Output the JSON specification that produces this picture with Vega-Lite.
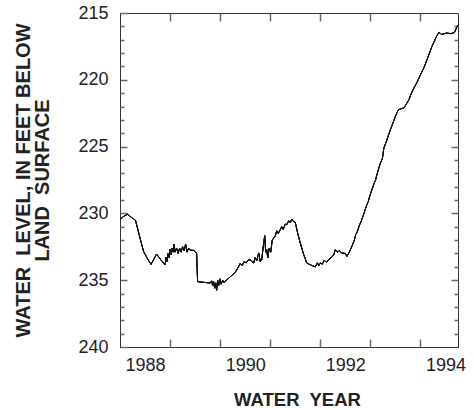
{
  "$schema": "https://vega.github.io/schema/vega-lite/v6.json",
  "width": 338,
  "height": 334,
  "autosize": {"type": "none"},
  "padding": {"left": 120, "top": 13, "right": 16, "bottom": 63},
  "background": "white",
  "config": {
    "view": {"stroke": "#333", "strokeWidth": 1},
    "axis": {
      "labelFont": "Liberation Sans",
      "labelFontSize": 18,
      "labelColor": "#222",
      "titleFont": "Liberation Sans",
      "titleFontSize": 18.5,
      "titleFontWeight": "bold",
      "titleColor": "#222",
      "domainColor": "#333",
      "grid": false,
      "labelFlush": false,
      "labelOverlap": false
    }
  },
  "data": {
    "values": [
      {"t": 1987.5, "level": 230.45},
      {"t": 1987.58, "level": 230.2},
      {"t": 1987.65, "level": 230.07},
      {"t": 1987.73, "level": 230.3},
      {"t": 1987.81, "level": 230.52},
      {"t": 1987.89, "level": 231.7},
      {"t": 1987.97, "level": 232.84},
      {"t": 1988.05, "level": 233.4},
      {"t": 1988.12, "level": 233.82},
      {"t": 1988.18, "level": 233.4},
      {"t": 1988.23, "level": 233.04},
      {"t": 1988.32, "level": 233.5},
      {"t": 1988.4, "level": 233.86},
      {"t": 1988.42, "level": 233.3},
      {"t": 1988.44, "level": 233.6},
      {"t": 1988.46, "level": 233.0},
      {"t": 1988.48, "level": 233.3},
      {"t": 1988.5, "level": 232.7},
      {"t": 1988.52, "level": 233.1},
      {"t": 1988.54, "level": 232.6},
      {"t": 1988.56, "level": 232.9},
      {"t": 1988.58, "level": 232.3},
      {"t": 1988.6, "level": 232.9},
      {"t": 1988.63, "level": 232.6},
      {"t": 1988.66, "level": 233.0},
      {"t": 1988.69, "level": 232.6},
      {"t": 1988.72, "level": 232.9},
      {"t": 1988.75, "level": 232.5},
      {"t": 1988.78, "level": 232.8},
      {"t": 1988.81, "level": 232.3},
      {"t": 1988.84, "level": 232.9},
      {"t": 1988.87, "level": 232.6},
      {"t": 1988.9, "level": 232.75},
      {"t": 1988.97, "level": 232.77},
      {"t": 1989.03, "level": 232.97},
      {"t": 1989.05, "level": 235.11},
      {"t": 1989.15, "level": 235.15},
      {"t": 1989.3, "level": 235.21},
      {"t": 1989.33, "level": 235.05},
      {"t": 1989.35, "level": 235.4},
      {"t": 1989.37, "level": 235.1},
      {"t": 1989.39, "level": 235.6},
      {"t": 1989.41, "level": 235.2},
      {"t": 1989.43, "level": 235.76},
      {"t": 1989.45, "level": 235.0},
      {"t": 1989.47, "level": 235.4},
      {"t": 1989.5, "level": 234.9},
      {"t": 1989.52, "level": 235.3},
      {"t": 1989.55, "level": 235.0},
      {"t": 1989.58, "level": 235.2},
      {"t": 1989.6, "level": 235.09},
      {"t": 1989.7, "level": 234.75},
      {"t": 1989.8, "level": 234.42},
      {"t": 1989.87, "level": 233.97},
      {"t": 1989.9, "level": 233.75},
      {"t": 1989.94, "level": 233.9},
      {"t": 1989.98, "level": 233.6},
      {"t": 1990.02, "level": 233.7},
      {"t": 1990.06, "level": 233.5},
      {"t": 1990.1, "level": 233.47},
      {"t": 1990.13, "level": 233.6},
      {"t": 1990.17, "level": 233.71},
      {"t": 1990.2, "level": 233.3},
      {"t": 1990.23, "level": 233.55},
      {"t": 1990.27, "level": 232.96},
      {"t": 1990.3, "level": 233.6},
      {"t": 1990.33, "level": 233.47},
      {"t": 1990.36, "level": 232.5},
      {"t": 1990.39, "level": 231.67},
      {"t": 1990.41, "level": 232.9},
      {"t": 1990.43, "level": 232.7},
      {"t": 1990.45, "level": 233.34},
      {"t": 1990.48, "level": 232.6},
      {"t": 1990.51, "level": 232.9},
      {"t": 1990.54, "level": 232.0},
      {"t": 1990.57, "level": 231.84},
      {"t": 1990.6, "level": 231.7},
      {"t": 1990.63, "level": 231.3},
      {"t": 1990.66, "level": 231.5},
      {"t": 1990.7, "level": 231.22},
      {"t": 1990.73, "level": 231.0},
      {"t": 1990.76, "level": 231.2},
      {"t": 1990.8, "level": 230.8},
      {"t": 1990.83, "level": 230.85},
      {"t": 1990.87, "level": 230.55},
      {"t": 1990.9, "level": 230.7},
      {"t": 1990.93, "level": 230.42},
      {"t": 1990.96, "level": 230.6},
      {"t": 1991.0, "level": 230.67},
      {"t": 1991.05, "level": 231.5},
      {"t": 1991.1, "level": 232.22},
      {"t": 1991.17, "level": 233.1},
      {"t": 1991.23, "level": 233.71},
      {"t": 1991.3, "level": 233.85},
      {"t": 1991.37, "level": 233.95},
      {"t": 1991.4, "level": 234.01},
      {"t": 1991.44, "level": 233.7},
      {"t": 1991.47, "level": 233.9},
      {"t": 1991.5, "level": 233.71},
      {"t": 1991.54, "level": 233.8},
      {"t": 1991.58, "level": 233.5},
      {"t": 1991.62, "level": 233.65},
      {"t": 1991.67, "level": 233.47},
      {"t": 1991.72, "level": 233.3},
      {"t": 1991.77, "level": 233.09},
      {"t": 1991.8, "level": 232.72},
      {"t": 1991.84, "level": 232.9},
      {"t": 1991.88, "level": 232.8},
      {"t": 1991.93, "level": 232.96},
      {"t": 1992.0, "level": 233.0},
      {"t": 1992.03, "level": 233.22},
      {"t": 1992.08, "level": 232.9},
      {"t": 1992.13, "level": 232.47},
      {"t": 1992.18, "level": 232.0},
      {"t": 1992.21, "level": 231.55},
      {"t": 1992.23, "level": 231.47},
      {"t": 1992.28, "level": 230.9},
      {"t": 1992.33, "level": 230.47},
      {"t": 1992.38, "level": 229.9},
      {"t": 1992.43, "level": 229.35},
      {"t": 1992.46, "level": 229.1},
      {"t": 1992.48, "level": 228.8},
      {"t": 1992.53, "level": 228.23},
      {"t": 1992.58, "level": 227.7},
      {"t": 1992.6, "level": 227.55},
      {"t": 1992.63, "level": 227.1},
      {"t": 1992.7, "level": 226.23},
      {"t": 1992.74, "level": 225.9},
      {"t": 1992.77, "level": 225.1},
      {"t": 1992.83, "level": 224.5},
      {"t": 1992.9, "level": 223.73},
      {"t": 1993.0, "level": 222.74},
      {"t": 1993.05, "level": 222.3},
      {"t": 1993.09, "level": 222.19},
      {"t": 1993.17, "level": 222.11},
      {"t": 1993.22, "level": 221.8},
      {"t": 1993.27, "level": 221.49},
      {"t": 1993.32, "level": 221.0},
      {"t": 1993.37, "level": 220.61},
      {"t": 1993.43, "level": 220.2},
      {"t": 1993.5, "level": 219.62},
      {"t": 1993.57, "level": 219.1},
      {"t": 1993.63, "level": 218.5},
      {"t": 1993.68, "level": 218.0},
      {"t": 1993.73, "level": 217.5},
      {"t": 1993.78, "level": 217.1},
      {"t": 1993.82, "level": 216.75},
      {"t": 1993.87, "level": 216.45},
      {"t": 1993.92, "level": 216.6},
      {"t": 1993.97, "level": 216.55},
      {"t": 1994.03, "level": 216.5},
      {"t": 1994.1, "level": 216.55},
      {"t": 1994.15, "level": 216.5},
      {"t": 1994.18, "level": 216.45},
      {"t": 1994.21, "level": 216.2},
      {"t": 1994.23, "level": 216.0},
      {"t": 1994.25, "level": 215.9}
    ]
  },
  "layer": [
    {
      "mark": {"type": "line", "color": "#111", "strokeWidth": 1},
      "encoding": {
        "x": {"field": "t", "type": "quantitative",
          "scale": {"domain": [1987.5, 1994.25], "nice": false, "zero": false},
          "axis": {"orient": "bottom", "values": [1988, 1990, 1992, 1994], "format": "d", "ticks": false, "labelPadding": 9, "title": "WATER\u00a0 YEAR", "titlePadding": 16, "titleX": 177}},
        "y": {"field": "level", "type": "quantitative",
          "scale": {"domain": [215, 240], "reverse": true, "nice": false, "zero": false},
          "axis": {"orient": "left", "values": [215, 220, 225, 230, 235, 240], "ticks": true, "tickSize": -7, "tickColor": "dimgray", "tickWidth": 1.5, "labelPadding": 19, "title": ["WATER\u00a0 LEVEL, IN FEET BELOW", "LAND\u00a0 SURFACE"], "titleFontSize": 20, "titleLineHeight": 19.5, "titlePadding": 25}}
      }
    },
    {
      "mark": {"type": "line", "color": "#111", "strokeWidth": 1},
      "encoding": {
        "x": {"field": "t", "type": "quantitative",
          "axis": {"orient": "bottom", "values": [1988.5, 1989.5, 1990.5, 1991.5, 1992.5, 1993.5], "labels": false, "ticks": true, "tickSize": -8, "tickColor": "dimgray", "tickWidth": 1.5, "domain": false, "title": null}},
        "y": {"field": "level", "type": "quantitative",
          "axis": {"orient": "left", "values": [216, 217, 218, 219, 221, 222, 223, 224, 226, 227, 228, 229, 231, 232, 233, 234, 236, 237, 238, 239], "labels": false, "ticks": true, "tickSize": -4, "tickColor": "dimgray", "tickWidth": 1.5, "domain": false, "title": null}}
      }
    },
    {
      "mark": {"type": "line", "color": "#111", "strokeWidth": 1},
      "encoding": {
        "x": {"field": "t", "type": "quantitative",
          "axis": {"orient": "top", "values": [1988.5, 1989.5, 1990.5, 1991.5, 1992.5, 1993.5], "labels": false, "ticks": true, "tickSize": -8, "tickColor": "dimgray", "tickWidth": 1.5, "domain": false, "title": null}},
        "y": {"field": "level", "type": "quantitative",
          "axis": {"orient": "right", "values": [220, 225, 230, 235], "labels": false, "ticks": true, "tickSize": -7, "tickColor": "dimgray", "tickWidth": 1.5, "domain": false, "title": null}}
      }
    },
    {
      "mark": {"type": "line", "color": "#111", "strokeWidth": 1},
      "encoding": {
        "x": {"field": "t", "type": "quantitative", "axis": null},
        "y": {"field": "level", "type": "quantitative",
          "axis": {"orient": "right", "values": [216, 217, 218, 219, 221, 222, 223, 224, 226, 227, 228, 229, 231, 232, 233, 234, 236, 237, 238, 239], "labels": false, "ticks": true, "tickSize": -4, "tickColor": "dimgray", "tickWidth": 1.5, "domain": false, "title": null}}
      }
    }
  ],
  "resolve": {"axis": {"x": "independent", "y": "independent"}}
}
